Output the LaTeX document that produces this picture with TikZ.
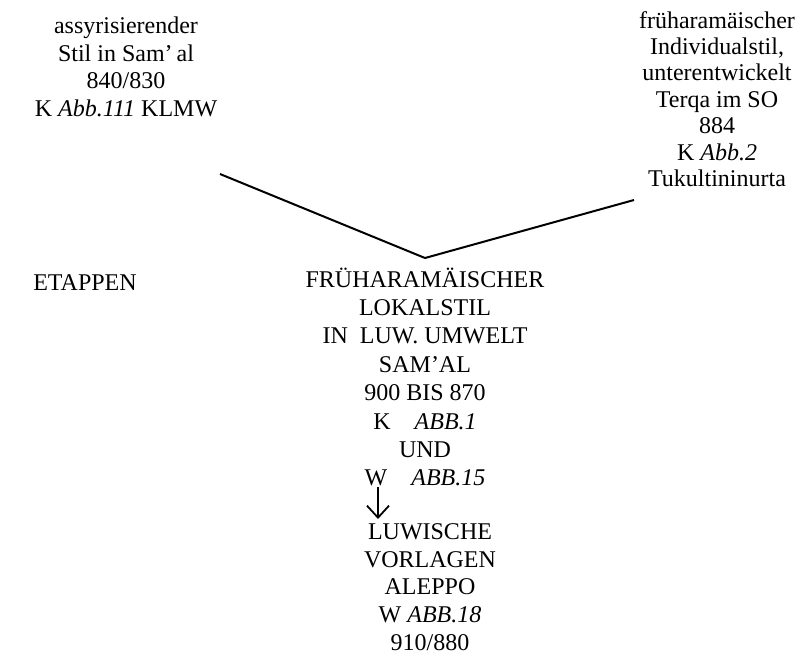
\documentclass[tikz,border=0pt]{standalone}
\usepackage{fontspec}
\setmainfont{Liberation Serif}
\usepackage{tikz}
\usetikzlibrary{arrows.meta}

\begin{document}
\begin{tikzpicture}[x=0.5pt,y=-0.5pt]
\tikzset{stil/.style = {align=center, inner sep=0pt, font=\fontsize{12}{13.8}\selectfont}}
\tikzset{linie/.style = {line width=1pt}}
\tikzset{pfeil/.style = {-{Straight Barb[length=6pt,width=11pt]}, line width=0.9pt}}
\useasboundingbox (0,0) rectangle (799,655);
%\draw[help lines] (0,0) grid (799,655);
\node[stil] (assyr) at (126,67) {assyrisierender\\Stil in Sam’\,al\\840/830\\K \textit{Abb.111} KLMW};
\node[stil, font=\fontsize{12}{13.2}\selectfont] (indiv) at (717,99) {früharamäischer\\Individualstil,\\unterentwickelt\\Terqa im SO\\884\\K \textit{Abb.2}\\Tukultininurta};
\node[stil] (etap) at (85,283) {ETAPPEN};
\node[stil, font=\fontsize{12}{14.2}\selectfont] (lokal) at (425,377) {FRÜHARAMÄISCHER\\LOKALSTIL\\IN\ \ LUW. UMWELT\\SAM’AL\\900 BIS 870\\K\quad\textit{ABB.1}\\UND\\W\quad\textit{ABB.15}};
\node[stil] (luwi) at (430,587) {LUWISCHE\\VORLAGEN\\ALEPPO\\W \textit{ABB.18}\\910/880};
\coordinate (linksA) at (220,174);
\coordinate (rechtsA) at (634,200);
\coordinate (spitze) at (425,258);
\coordinate (pfeilA) at (378,487);
\coordinate (pfeilB) at (378,519);
\draw[linie] (linksA) to (spitze);
\draw[linie] (rechtsA) to (spitze);
\draw[pfeil] (pfeilA) to (pfeilB);
\end{tikzpicture}
\end{document}
